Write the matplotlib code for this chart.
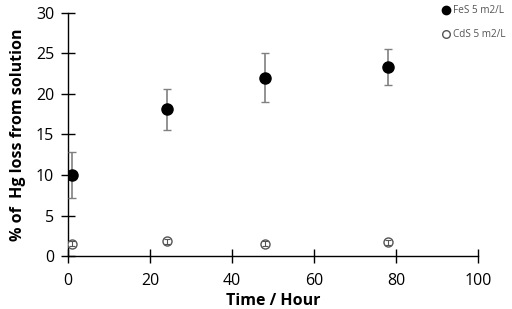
import matplotlib
matplotlib.use("Agg")
import matplotlib.pyplot as plt
from matplotlib.lines import Line2D

plt.rcParams['font.family'] = ['Open Sans', 'DejaVu Sans']

time_h = [1, 24, 48, 78]
fes = [10.0, 18.1, 22.0, 23.3]
fes_err = [2.8, 2.5, 3.0, 2.2]
cds = [1.5, 1.8, 1.5, 1.7]
cds_err = [0.3, 0.3, 0.3, 0.3]
xticks = [0, 20, 40, 60, 80, 100]
yticks = [0, 5, 10, 15, 20, 25, 30]

fig = plt.figure(figsize=(5.12, 3.09), dpi=100)
ax = fig.add_axes([0.133, 0.1715, 0.801, 0.7865])

ax.errorbar(time_h, fes, yerr=fes_err, fmt='o', color='black', markersize=8,
            ecolor='#808080', elinewidth=1.2, capsize=3, capthick=1.0, zorder=3)
ax.plot(time_h, cds, 'o', markerfacecolor='white', markeredgecolor='#555555',
        markeredgewidth=1.0, markersize=6.5, linestyle='none', zorder=3)
ax.errorbar(time_h, cds, yerr=cds_err, fmt='none', ecolor='#555555',
            elinewidth=0.8, capsize=2, capthick=0.8, zorder=4)

ax.set_xlim(0, 100)
ax.set_ylim(0, 30)
ax.set_xticks(xticks)
ax.set_yticks(yticks)
for s in ['top', 'right']:
    ax.spines[s].set_visible(False)
for s in ['left', 'bottom']:
    ax.spines[s].set_linewidth(1.0)
ax.tick_params(direction='inout', length=10, width=1.0, labelsize=11.5, colors='black')
ax.tick_params(axis='x', pad=7)
ax.tick_params(axis='y', pad=5)
ax.set_xlabel('Time / Hour', fontsize=11.5, fontweight='bold', labelpad=3)
ax.set_ylabel('% of  Hg loss from solution', fontsize=11.5, fontweight='bold', labelpad=7)

h1 = Line2D([], [], marker='o', color='black', linestyle='none', markersize=6)
h2 = Line2D([], [], marker='o', markerfacecolor='white', markeredgecolor='#555555',
            linestyle='none', markersize=5.5)
fig.legend([h1, h2], ['FeS 5 m2/L', 'CdS 5 m2/L'], loc='upper left',
           bbox_to_anchor=(0.843, 1.012), frameon=False, fontsize=7.2,
           labelspacing=1.3, handletextpad=0.2, handlelength=1.0, labelcolor='#555555')

fig.savefig('out.png', dpi=100)
